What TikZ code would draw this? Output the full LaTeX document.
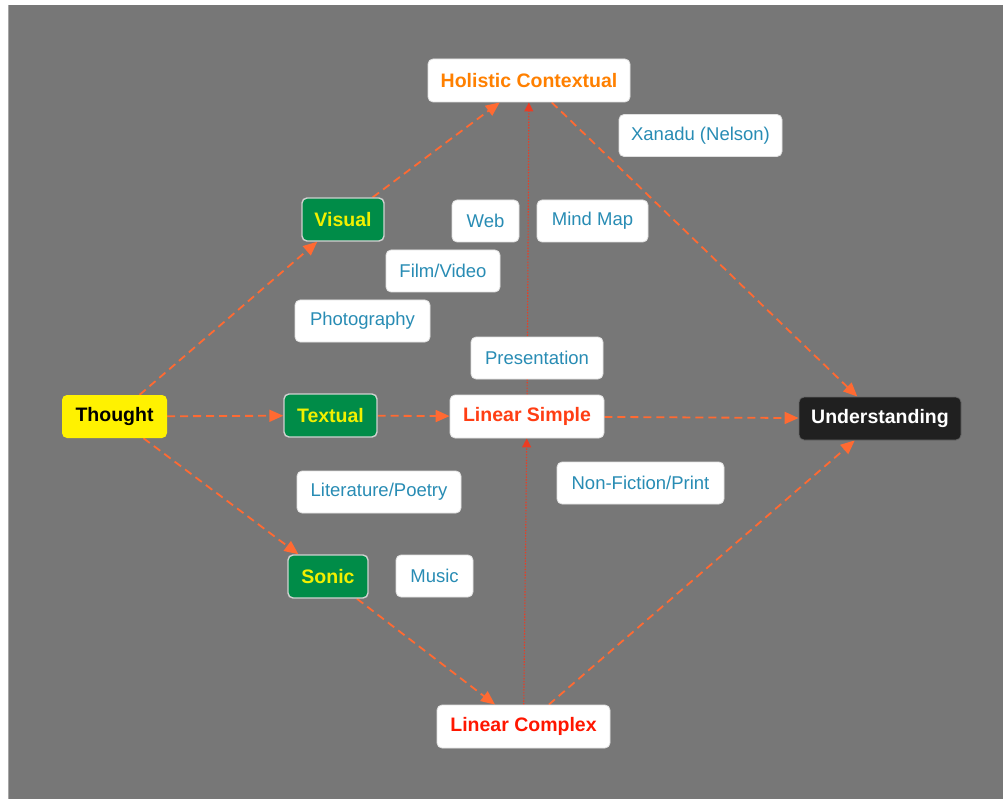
\documentclass[tikz,border=0pt]{standalone}
\usepackage{fontspec}
\setmainfont{Liberation Sans}
\usetikzlibrary{arrows.meta,backgrounds}
\definecolor{bggray}{RGB}{119,119,119}
\definecolor{edgeor}{RGB}{255,106,50}
\definecolor{dotred}{RGB}{235,60,35}
\definecolor{itemblue}{RGB}{40,140,180}
\definecolor{boxgreen}{RGB}{0,140,72}
\definecolor{txtyellow}{RGB}{242,240,0}
\definecolor{holor}{RGB}{255,128,0}
\definecolor{linsimp}{RGB}{255,62,20}
\definecolor{lincomp}{RGB}{255,22,0}
\definecolor{boxblack}{RGB}{32,32,32}
\tikzset{
  base/.style={rounded corners=5pt, minimum height=43pt, inner sep=0pt, align=center},
  bigtxt/.style={font=\fontsize{19.5}{21}\selectfont\bfseries},
  itembox/.style={base, fill=white, draw=black!12, line width=0.8pt, text=itemblue,
                  font=\fontsize{18.5}{20}\selectfont, minimum height=42pt},
  whitebox/.style={base, bigtxt, fill=white, draw=black!12, line width=0.8pt},
  greenbox/.style={base, bigtxt, fill=boxgreen, draw=black!18, line width=1.4pt, text=txtyellow},
  flow/.style={draw=edgeor, line width=1.8pt, dash pattern=on 8pt off 5pt,
               -{Triangle[length=14pt,width=12pt]}},
  dotflow/.style={draw=dotred, line width=1.1pt, dash pattern=on 1.4pt off 1.4pt,
                  -{Triangle[length=9pt,width=9pt]}}
}
\begin{document}
\begin{tikzpicture}[x=1pt,y=-1pt]
\useasboundingbox (0,0) rectangle (1003,799);

% main nodes
\node[base, bigtxt, fill=yellow, text=black, minimum width=105pt] (thought) at (114.5,416.5) {Thought};
\node[greenbox, minimum width=93pt] (textual) at (330.5,415.5) {Textual};
\node[greenbox, minimum width=82pt] (visual) at (343,219.5) {Visual};
\node[greenbox, minimum width=80pt] (sonic) at (328,576.5) {Sonic};
\node[whitebox, text=holor, minimum width=202pt] (holistic) at (529,80.5) {Holistic Contextual};
\node[whitebox, text=linsimp, minimum width=154pt] (linsimple) at (527,416.5) {Linear Simple};
\node[whitebox, text=lincomp, minimum width=173pt] (lincomplex) at (523.5,726.5) {Linear Complex};
\node[base, bigtxt, fill=boxblack, draw=black!60, line width=0.8pt, text=white, minimum width=162pt] (underst) at (880,418.5) {Understanding};

% item labels
\node[itembox, minimum width=163pt] (xanadu) at (700.5,135.5) {Xanadu (Nelson)};
\node[itembox, minimum width=67pt] (web) at (485.5,221) {Web};
\node[itembox, minimum width=111pt] (mindmap) at (592.5,221) {Mind Map};
\node[itembox, minimum width=114pt] (film) at (443,271) {Film/Video};
\node[itembox, minimum width=135pt] (photo) at (362.5,321) {Photography};
\node[itembox, minimum width=132pt] (present) at (537,358) {Presentation};
\node[itembox, minimum width=164pt] (lit) at (379,492) {Literature/Poetry};
\node[itembox, minimum width=167pt] (nonfic) at (640.5,483) {Non-Fiction/Print};
\node[itembox, minimum width=77pt] (music) at (434.5,576) {Music};

\begin{pgfonlayer}{background}
\fill[white] (0,0) rectangle (1003,799);
\fill[bggray] (8,5) rectangle (1003,799);
\draw[black!35, line width=1pt] (8.5,5) -- (8.5,799);

% dotted vertical connectors
\draw[dotflow] (lincomplex) -- (linsimple);
\draw[dotflow] (linsimple) -- (holistic);

% dashed flows
\draw[flow] (thought) -- (visual);
\draw[flow] (thought) -- (textual);
\draw[flow] (thought) -- (sonic);
\draw[flow] (visual) -- (holistic);
\draw[flow] (textual) -- (linsimple);
\draw[flow] (sonic) -- (lincomplex);
\draw[flow] (holistic) -- (underst);
\draw[flow] (linsimple) -- (underst);
\draw[flow] (lincomplex) -- (underst);
\end{pgfonlayer}
\end{tikzpicture}
\end{document}
